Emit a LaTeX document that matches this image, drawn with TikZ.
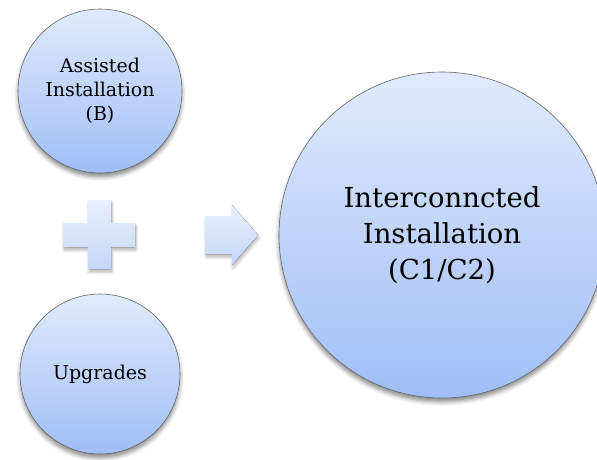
\documentclass[tikz,border=0pt]{standalone}
\usepackage{fontspec}
\setmainfont{DejaVu Serif}
\usepackage{tikz}
\usetikzlibrary{shadows.blur}

\definecolor{bubbletop}{RGB}{224,234,252}
\definecolor{bubblebot}{RGB}{160,190,246}
\definecolor{signtop}{RGB}{233,240,253}
\definecolor{signbot}{RGB}{196,214,248}

\begin{document}
\begin{tikzpicture}[
            x = 1pt, y = -1pt, % y runs downwards
            bubble/.style = {shape=circle, draw=black!60, line width=0.6pt,
                top color=bubbletop, bottom color=bubblebot,
                align=center, inner sep=0pt,
                blur shadow={shadow xshift=0pt, shadow yshift=-4pt,
                    shadow blur radius=4pt, shadow opacity=45}},
            sign/.style = {top color=signtop, bottom color=signbot,
                blur shadow={shadow xshift=1pt, shadow yshift=-3pt,
                    shadow blur radius=3pt, shadow opacity=30}},
            small/.style = {font=\fontsize{19}{24}\selectfont},
            big/.style = {font=\fontsize{27.5}{36}\selectfont}
        ]

\useasboundingbox (0,0) rectangle (597,459);
\clip (0,0) rectangle (597,459);

\node[bubble, small, minimum size=164pt] (B) at (100,91) {Assisted\\Installation\\(B)};
\node[bubble, small, minimum size=160pt] (U) at (100,374) {Upgrades};
\node[bubble, big, minimum size=326pt] (C) at (442,235) {Interconncted\\Installation\\(C1/C2)};

% plus sign between the two small circles
\fill[sign] (88,200) -- (111,200) -- (111,223) -- (135,223) -- (135,247)
    -- (111,247) -- (111,269) -- (88,269) -- (88,247) -- (63,247)
    -- (63,223) -- (88,223) -- cycle;

% block arrow towards the big circle
\fill[sign] (205,216) -- (232,216) -- (232,205) -- (258,235)
    -- (232,265) -- (232,254) -- (205,254) -- cycle;
\end{tikzpicture}
\end{document}
